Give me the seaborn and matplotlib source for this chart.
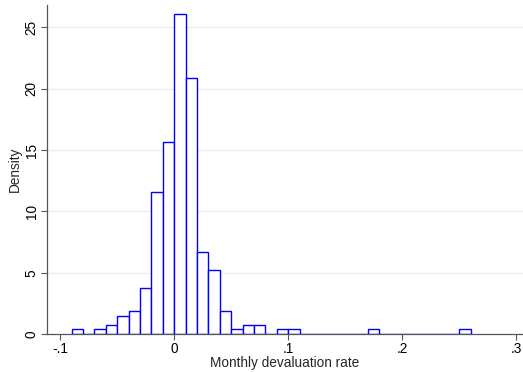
import numpy as np
import pandas as pd
import matplotlib
matplotlib.use("Agg")
import matplotlib.pyplot as plt
import seaborn as sns

# Bin edges (width .01) and counts per bin
bin_edges = [round(-0.09 + 0.01 * k, 3) for k in range(36)]
counts = [1, 0, 1, 2, 4, 5, 10, 31, 42, 70, 56, 18, 14, 5, 1, 2, 2, 0, 1, 1,
          0, 0, 0, 0, 0, 0, 1, 0, 0, 0, 0, 0, 0, 0, 1]
x_ticks = [-0.1, 0, 0.1, 0.2, 0.3]
x_tick_labels = ['-.1', '0', '.1', '.2', '.3']
y_ticks = [0, 5, 10, 15, 20, 25]

edges = np.array(bin_edges)
df = pd.DataFrame({'rate': (edges[:-1] + edges[1:]) / 2, 'n': counts})

sns.set_theme(style="white")
plt.rcParams['font.family'] = ['Liberation Sans', 'DejaVu Sans']

fig = plt.figure(figsize=(5.23, 3.72), dpi=100)
ax = fig.add_axes([0.09, 0.102, 0.91, 0.884])

# horizontal grid lines like Stata's s2color scheme
for y in y_ticks[1:]:
    ax.axhline(y, color='#e6eef0', lw=1.0, zorder=0)

sns.histplot(data=df, x='rate', weights='n', bins=list(bin_edges), stat='density',
             fill=True, color='white', edgecolor='#0000ff', linewidth=1.0,
             alpha=1, ax=ax, zorder=2)

ax.set_xlim(-0.1115, 0.306)
ax.set_ylim(0, 26.8)
ax.set_xticks(x_ticks)
ax.set_xticklabels(x_tick_labels)
ax.set_yticks(y_ticks)
ax.set_yticklabels([str(v) for v in y_ticks], rotation=90, va='center')

ax.tick_params(axis='both', direction='out', length=4, width=0.8,
               color='#555555', labelsize=9.8, labelcolor='black', pad=2)
ax.tick_params(axis='x', bottom=True)
ax.tick_params(axis='y', left=True)

for side in ['top', 'right']:
    ax.spines[side].set_visible(False)
for side in ['left', 'bottom']:
    ax.spines[side].set_color('#555555')
    ax.spines[side].set_linewidth(0.9)

ax.set_xlabel('Monthly devaluation rate', fontsize=9.8, labelpad=0)
ax.set_ylabel('Density', fontsize=9.8, labelpad=2)

fig.savefig('out.png', dpi=100)
